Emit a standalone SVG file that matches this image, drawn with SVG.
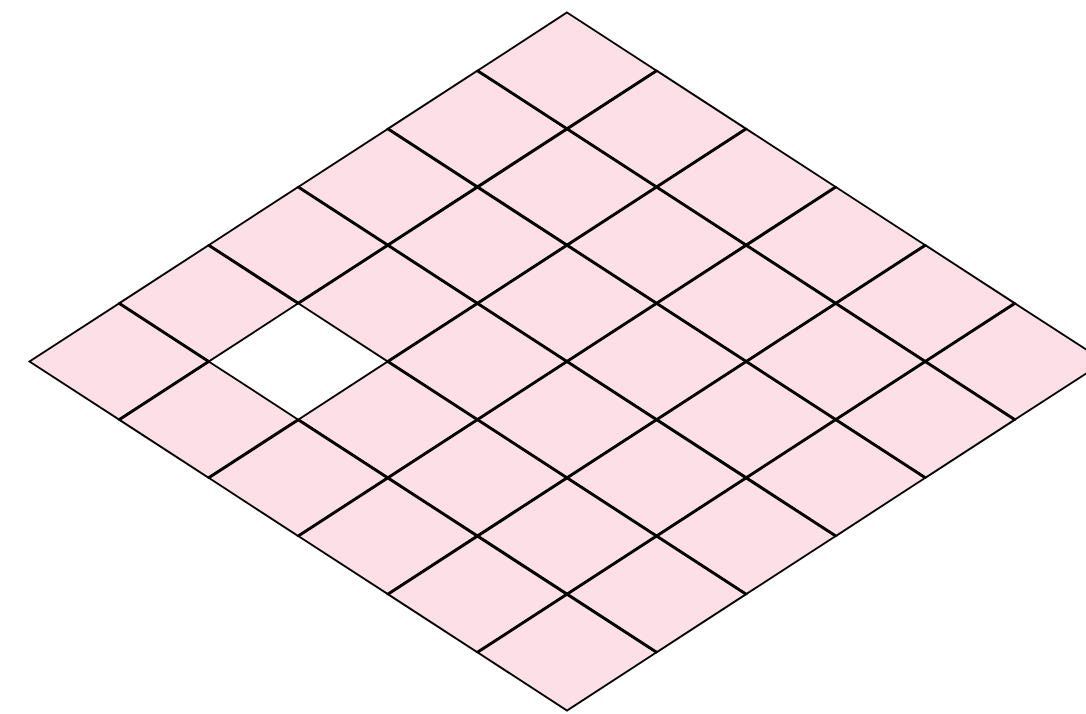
<svg xmlns="http://www.w3.org/2000/svg" width="1086" height="714" viewBox="0 0 1086 714">
<style>
.cell{fill:#fde0e7;stroke:#000;stroke-width:1.9;stroke-linejoin:miter}
.inner{fill:none;stroke:#000;stroke-width:3;stroke-linecap:butt}
</style>
<defs>
<polygon id="c" points="0,0 89.583,58.167 0,116.333 -89.583,58.167"/>
</defs>
<rect width="1086" height="714" fill="#fff"/>
<g id="cell-0-0"><use href="#c" class="cell" transform="translate(567,12.5)"/></g>
<g id="cell-0-1"><use href="#c" class="cell" transform="translate(656.58,70.67)"/></g>
<g id="cell-0-2"><use href="#c" class="cell" transform="translate(746.17,128.83)"/></g>
<g id="cell-0-3"><use href="#c" class="cell" transform="translate(835.75,187)"/></g>
<g id="cell-0-4"><use href="#c" class="cell" transform="translate(925.33,245.17)"/></g>
<g id="cell-0-5"><use href="#c" class="cell" transform="translate(1014.92,303.33)"/></g>
<g id="cell-1-0"><use href="#c" class="cell" transform="translate(477.42,70.67)"/></g>
<g id="cell-1-1"><use href="#c" class="cell" transform="translate(567,128.83)"/></g>
<g id="cell-1-2"><use href="#c" class="cell" transform="translate(656.58,187)"/></g>
<g id="cell-1-3"><use href="#c" class="cell" transform="translate(746.17,245.17)"/></g>
<g id="cell-1-4"><use href="#c" class="cell" transform="translate(835.75,303.33)"/></g>
<g id="cell-1-5"><use href="#c" class="cell" transform="translate(925.33,361.5)"/></g>
<g id="cell-2-0"><use href="#c" class="cell" transform="translate(387.83,128.83)"/></g>
<g id="cell-2-1"><use href="#c" class="cell" transform="translate(477.42,187)"/></g>
<g id="cell-2-2"><use href="#c" class="cell" transform="translate(567,245.17)"/></g>
<g id="cell-2-3"><use href="#c" class="cell" transform="translate(656.58,303.33)"/></g>
<g id="cell-2-4"><use href="#c" class="cell" transform="translate(746.17,361.5)"/></g>
<g id="cell-2-5"><use href="#c" class="cell" transform="translate(835.75,419.67)"/></g>
<g id="cell-3-0"><use href="#c" class="cell" transform="translate(298.25,187)"/></g>
<g id="cell-3-1"><use href="#c" class="cell" transform="translate(387.83,245.17)"/></g>
<g id="cell-3-2"><use href="#c" class="cell" transform="translate(477.42,303.33)"/></g>
<g id="cell-3-3"><use href="#c" class="cell" transform="translate(567,361.5)"/></g>
<g id="cell-3-4"><use href="#c" class="cell" transform="translate(656.58,419.67)"/></g>
<g id="cell-3-5"><use href="#c" class="cell" transform="translate(746.17,477.83)"/></g>
<g id="cell-4-0"><use href="#c" class="cell" transform="translate(208.67,245.17)"/></g>
<g id="cell-4-2"><use href="#c" class="cell" transform="translate(387.83,361.5)"/></g>
<g id="cell-4-3"><use href="#c" class="cell" transform="translate(477.42,419.67)"/></g>
<g id="cell-4-4"><use href="#c" class="cell" transform="translate(567,477.83)"/></g>
<g id="cell-4-5"><use href="#c" class="cell" transform="translate(656.58,536)"/></g>
<g id="cell-5-0"><use href="#c" class="cell" transform="translate(119.08,303.33)"/></g>
<g id="cell-5-1"><use href="#c" class="cell" transform="translate(208.67,361.5)"/></g>
<g id="cell-5-2"><use href="#c" class="cell" transform="translate(298.25,419.67)"/></g>
<g id="cell-5-3"><use href="#c" class="cell" transform="translate(387.83,477.83)"/></g>
<g id="cell-5-4"><use href="#c" class="cell" transform="translate(477.42,536)"/></g>
<g id="cell-5-5"><use href="#c" class="cell" transform="translate(567,594.17)"/></g>
<g id="inner-edges" class="inner">
<line x1="477.42" y1="70.67" x2="1014.92" y2="419.67"/>
<line x1="387.83" y1="128.83" x2="925.33" y2="477.83"/>
<line x1="298.25" y1="187" x2="835.75" y2="536"/>
<line x1="208.67" y1="245.17" x2="298.25" y2="303.33"/>
<line x1="387.83" y1="361.5" x2="746.17" y2="594.17"/>
<line x1="119.08" y1="303.33" x2="208.67" y2="361.5"/>
<line x1="298.25" y1="419.67" x2="656.58" y2="652.33"/>
<line x1="656.58" y1="70.67" x2="298.25" y2="303.33"/>
<line x1="208.67" y1="361.5" x2="119.08" y2="419.67"/>
<line x1="746.17" y1="128.83" x2="387.83" y2="361.5"/>
<line x1="298.25" y1="419.67" x2="208.67" y2="477.83"/>
<line x1="835.75" y1="187" x2="298.25" y2="536"/>
<line x1="925.33" y1="245.17" x2="387.83" y2="594.17"/>
<line x1="1014.92" y1="303.33" x2="477.42" y2="652.33"/>
</g>
</svg>
